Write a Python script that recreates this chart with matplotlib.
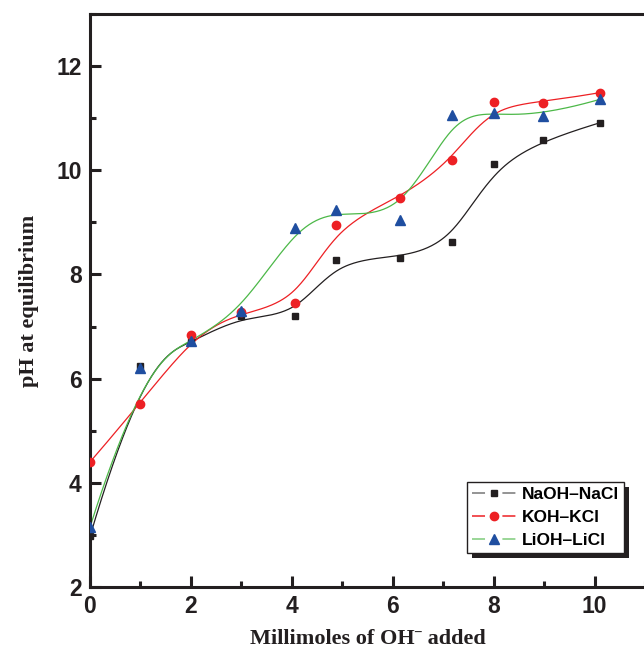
"""pH at equilibrium vs millimoles of OH- added"""
import numpy as np
import matplotlib
matplotlib.use("Agg")
import matplotlib.pyplot as plt
from matplotlib import font_manager as fm
from matplotlib.ticker import MultipleLocator
from matplotlib.patches import Rectangle

x_na = [0, 1, 2, 3, 4.07, 4.88, 6.15, 7.18, 8.0, 8.98, 10.1]
y_na = [2.97, 6.25, 6.7, 7.2, 7.2, 8.28, 8.32, 8.62, 10.12, 10.58, 10.91]

x_k = [0, 1, 2, 3, 4.07, 4.88, 6.15, 7.18, 8.0, 8.98, 10.1]
y_k = [4.4, 5.52, 6.83, 7.27, 7.46, 8.94, 9.47, 10.19, 11.32, 11.30, 11.49]

x_li = [0, 1, 2, 3, 4.07, 4.88, 6.15, 7.18, 8.0, 8.98, 10.1]
y_li = [3.15, 6.2, 6.72, 7.3, 8.9, 9.24, 9.05, 11.07, 11.09, 11.05, 11.36]

labels = ["NaOH\u2013NaCl", "KOH\u2013KCl", "LiOH\u2013LiCl"]
colors = ["#231f20", "#ed2024", "#1f4ea0"]
line_colors = ["#231f20", "#ed2024", "#4cb848"]
leg_line_colors = ["#777777", "#ed2024", "#7fcc7a"]
markers = ["s", "o", "^"]
msizes = [5, 6, 6.5]


def bspline(xs, ys, n=400, k=3):
    # clamped uniform B-spline with the data points as control points
    P = np.column_stack([xs, ys])
    m = len(P)
    knots = np.concatenate([np.zeros(k), np.linspace(0, 1, m - k + 1), np.ones(k)])
    t_ = np.linspace(0, 1 - 1e-9, n)
    out = []
    for t in t_:
        j = np.searchsorted(knots, t, side="right") - 1
        j = min(max(j, k), m - 1)
        d = [P[j - k + i].copy() for i in range(k + 1)]
        for r in range(1, k + 1):
            for i in range(k, r - 1, -1):
                a = (t - knots[i + j - k]) / (knots[i + 1 + j - r] - knots[i + j - k])
                d[i] = (1 - a) * d[i - 1] + a * d[i]
        out.append(d[k])
    out.append(P[-1])
    out = np.array(out)
    return out[:, 0], out[:, 1]


# pick the regular-width Liberation Sans Bold file (not the Narrow one)
bold_file = None
for f in fm.fontManager.ttflist:
    if f.name == "Liberation Sans" and f.weight in (700, "bold") and f.style == "normal" \
            and "Narrow" not in f.fname:
        bold_file = f.fname
        break


def sans(size):
    if bold_file:
        return fm.FontProperties(fname=bold_file, size=size)
    return fm.FontProperties(family="DejaVu Sans", weight="bold", size=size)


fig = plt.figure(figsize=(6.44, 6.49), dpi=100)
ax = fig.add_axes([90 / 644, 62 / 649, 555 / 644, 573 / 649])

fs_leg = 12.5
hl = 2.5
seg = hl * fs_leg * 0.30
handles = []
for xs, ys, lab, c, lc, llc, mk, ms in zip([x_na, x_k, x_li], [y_na, y_k, y_li], labels,
                                            colors, line_colors, leg_line_colors,
                                            markers, msizes):
    sx, sy = bspline(xs, ys)
    ax.plot(sx, sy, color=lc, lw=0.9, zorder=2)
    ax.plot(xs, ys, ls="none", marker=mk, ms=ms, color=c, zorder=3)
    # legend line with a gap round the marker
    h, = ax.plot([], [], color=llc, lw=1.1, marker=mk, ms=ms, mfc=c, mec=c, label=lab,
                 ls=(0, (seg / 1.1, (hl * fs_leg - 2 * seg) / 1.1, seg / 1.1, 100)))
    handles.append(h)

ax.set_xlim(0, 11)
ax.set_ylim(2, 13)
ax.xaxis.set_major_locator(MultipleLocator(2))
ax.xaxis.set_minor_locator(MultipleLocator(1))
ax.yaxis.set_major_locator(MultipleLocator(2))
ax.yaxis.set_minor_locator(MultipleLocator(1))
ax.tick_params(which="both", direction="in", top=False, right=False, width=2.2,
               color="#231f20")
ax.tick_params(which="major", length=8, pad=6)
ax.tick_params(which="minor", length=4.5)
for lbl in ax.get_xticklabels() + ax.get_yticklabels():
    lbl.set_fontproperties(sans(16.5))
    lbl.set_color("#231f20")
for s in ["left", "bottom", "top"]:
    ax.spines[s].set_linewidth(2.2)
    ax.spines[s].set_color("#231f20")
ax.spines["right"].set_linewidth(1)
ax.spines["right"].set_color("#555555")

ax.set_xlabel("Millimoles of OH\u02c9 added", fontsize=16, color="#231f20",
              fontweight="bold", family=["Liberation Serif", "DejaVu Serif"], labelpad=8)
ax.set_ylabel("pH at equilibrium", fontsize=16, fontweight="bold", color="#231f20",
              family="Liberation Serif", labelpad=12)

leg = ax.legend(handles=handles, loc="lower right", bbox_to_anchor=(0.962, 0.059),
                borderaxespad=0, fancybox=False, framealpha=1, edgecolor="#231f20",
                prop=sans(fs_leg), handlelength=hl, handletextpad=0.35,
                labelspacing=0.45, borderpad=0.28)
leg.get_frame().set_linewidth(1)
leg.set_zorder(5)

# black drop shadow behind the legend box
fig.canvas.draw()
bb = leg.get_window_extent().transformed(fig.transFigure.inverted())
ox, oy = 5 / 644, -5 / 649
ax.add_patch(Rectangle((bb.x0 + ox, bb.y0 + oy), bb.width, bb.height,
                       transform=fig.transFigure, facecolor="#231f20",
                       edgecolor="none", zorder=4, clip_on=False))

plt.savefig("out.png", dpi=100)
